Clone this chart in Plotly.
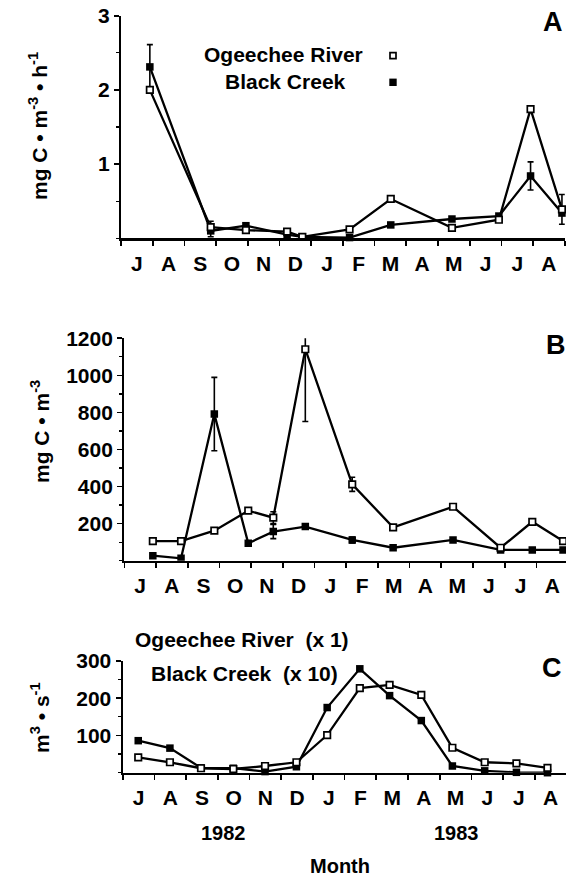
import numpy as np
import plotly.graph_objects as go

# ---------------- data ----------------
months = ["J", "A", "S", "O", "N", "D", "J", "F", "M", "A", "M", "J", "J", "A"]

# time axis: months elapsed since 1 July 1982
# Panel A: primary production (mg C m^-3 h^-1)
a_time = [0.91, 2.83, 3.94, 5.24, 5.72, 7.21, 8.51, 10.44, 11.92, 12.92, 13.91]
a_ogeechee = [2.00, 0.15, 0.11, 0.09, 0.02, 0.12, 0.53, 0.14, 0.25, 1.74, 0.39]
a_ogeechee_err = [None, None, None, None, None, None, None, None, None, None, 0.20]
a_black = [2.31, 0.10, 0.17, 0.05, 0.02, 0.01, 0.18, 0.26, 0.30, 0.84, 0.34]
a_black_err_plus = [0.30, 0.13, None, None, None, None, None, None, None, 0.19, None]
a_black_err_minus = [0.30, 0.08, None, None, None, None, None, None, None, 0.19, None]

# Panel B: biomass (mg C m^-3)
b_time = [0.90, 1.79, 2.84, 3.91, 4.70, 5.71, 7.19, 8.48, 10.37, 11.87, 12.87, 13.84]
b_ogeechee = [106, 106, 162, 270, 232, 1141, 412, 180, 291, 70, 210, 106]
b_ogeechee_err = [None, None, None, None, 32, 390, 38, None, None, None, None, None]
b_black = [27, 13, 791, 94, 157, 184, 112, 70, 112, 58, 58, 58]
b_black_err = [None, None, 198, None, 38, None, 16, None, None, None, None, None]

# Panel C: discharge (m^3 s^-1); Black Creek plotted x10
c_time = [0.49, 1.49, 2.47, 3.49, 4.49, 5.48, 6.45, 7.48, 8.42, 9.42, 10.40, 11.42, 12.42, 13.40]
c_ogeechee = [41, 28, 12, 10, 18, 28, 101, 227, 236, 209, 67, 28, 25, 13]
c_black = [86, 66, 13, 12, 3, 16, 175, 279, 207, 140, 18, 5, 1, 0]

year_labels = ["1982", "1983"]

# ---------------- layout helpers ----------------
W, H = 566, 876
FONT = "Liberation Sans, Arial, Helvetica, sans-serif"


def fx(p):
    return p / W


def fy(p):
    return 1 - p / H


def arr(v):
    return np.array(v, dtype=float)


LINE = dict(color="black", width=2.3)
OPEN = dict(symbol="square", size=6.5, color="white", line=dict(color="black", width=1.7))
FILLED = dict(symbol="square", size=7.5, color="black", line=dict(color="black", width=0))


def err(plus, minus=None):
    d = dict(type="data", array=arr(plus), color="black", thickness=1.6, width=3)
    if minus is not None:
        d["symmetric"] = False
        d["arrayminus"] = arr(minus)
    else:
        d["symmetric"] = True
    return d


fig = go.Figure()

# Panel A
fig.add_trace(go.Scatter(x=a_time, y=a_black, mode="lines+markers", line=LINE, marker=FILLED,
                         error_y=err(a_black_err_plus, a_black_err_minus), xaxis="x", yaxis="y",
                         cliponaxis=False, name="Black Creek"))
fig.add_trace(go.Scatter(x=a_time, y=a_ogeechee, mode="lines+markers", line=LINE, marker=OPEN,
                         error_y=err(a_ogeechee_err), xaxis="x", yaxis="y",
                         cliponaxis=False, name="Ogeechee River"))
# Panel B
fig.add_trace(go.Scatter(x=b_time, y=b_black, mode="lines+markers", line=LINE, marker=FILLED,
                         error_y=err(b_black_err), xaxis="x2", yaxis="y2", name="Black Creek"))
fig.add_trace(go.Scatter(x=b_time, y=b_ogeechee, mode="lines+markers", line=LINE, marker=OPEN,
                         error_y=err(b_ogeechee_err), xaxis="x2", yaxis="y2", name="Ogeechee River"))
# Panel C
fig.add_trace(go.Scatter(x=c_time, y=c_black, mode="lines+markers", line=LINE, marker=FILLED,
                         xaxis="x3", yaxis="y3", cliponaxis=False, name="Black Creek (x10)"))
fig.add_trace(go.Scatter(x=c_time, y=c_ogeechee, mode="lines+markers", line=LINE, marker=OPEN,
                         xaxis="x3", yaxis="y3", cliponaxis=False, name="Ogeechee River (x1)"))

TICKFONT = dict(size=21, family=FONT, weight="bold", color="black")


def xaxis(domain, rng, anchor):
    return dict(domain=domain, range=rng, anchor=anchor,
                tickmode="array", tickvals=[i + 0.5 for i in range(len(months))], ticktext=months,
                ticks="", ticklabelstandoff=5, showline=True, linewidth=2.2, linecolor="black",
                showgrid=False, zeroline=False, fixedrange=True, automargin=False,
                tickfont=TICKFONT,
                minor=dict(tickmode="linear", tick0=0, dtick=1, ticks="outside", ticklen=5,
                           tickwidth=1.6, tickcolor="black", showgrid=False))


def yaxis(domain, rng, anchor, tickvals, minor_dtick):
    return dict(domain=domain, range=rng, anchor=anchor,
                tickmode="array", tickvals=tickvals,
                ticks="outside", ticklen=5, tickwidth=1.6, tickcolor="black",
                showline=True, linewidth=2.2, linecolor="black",
                showgrid=False, zeroline=False, fixedrange=True, automargin=False,
                tickfont=TICKFONT,
                minor=dict(tickmode="linear", tick0=0, dtick=minor_dtick, ticks="outside",
                           ticklen=3, tickwidth=1.3, tickcolor="black", showgrid=False))


MW = 31.7  # pixels per month
fig.update_layout(
    width=W, height=H,
    margin=dict(l=0, r=0, t=0, b=0, autoexpand=False),
    paper_bgcolor="white", plot_bgcolor="white",
    showlegend=False,
    font=dict(family=FONT, size=20, color="black", weight="bold"),
    xaxis=xaxis([fx(121), fx(121 + 14 * MW)], [0, 14], "y"),
    yaxis=yaxis([fy(238.3), fy(15.7)], [0, 3], "x", [1, 2, 3], 0.5),
    xaxis2=xaxis([fx(124.3), 1.0], [0, (W - 124.3) / MW], "y2"),
    yaxis2=yaxis([fy(560.7), fy(338.3)], [0, 1200], "x2", [200, 400, 600, 800, 1000, 1200], 100),
    xaxis3=xaxis([fx(122.7), 1.0], [0, (W - 122.7) / MW], "y3"),
    yaxis3=yaxis([fy(772.7), fy(661)], [0, 300], "x3", [100, 200, 300], 50),
)

ann = []


def text(s, x, y, size=20, xanchor="center", angle=0):
    ann.append(dict(text=s, x=fx(x), y=fy(y), xref="paper", yref="paper", showarrow=False,
                    xanchor=xanchor, yanchor="middle", textangle=angle,
                    font=dict(size=size, family=FONT, color="black", weight="bold")))


# y-axis titles
text("mg C • m<sup>-3</sup> • h<sup>-1</sup>", 38, 126, size=21, angle=-90)
text("mg C • m<sup>-3</sup>", 40, 432, size=21, angle=-90)
text("m<sup>3</sup> • s<sup>-1</sup>", 40, 718, size=21, angle=-90)

# panel letters
text("A", 552.5, 21.7, size=27)
text("B", 555.5, 345, size=27)
text("C", 551.5, 667.5, size=27)

# legend in panel A
text("Ogeechee River", 283, 55, size=21)
text("Black Creek", 285, 82, size=21)

# series labels in panel C
text("Ogeechee River  (x 1)", 133, 639, size=21, xanchor="left")
text("Black Creek  (x 10)", 149, 673, size=21, xanchor="left")

# year and axis title
text(year_labels[0], 223, 833, size=20)
text(year_labels[1], 456.7, 833, size=20)
text("Month", 340, 865.5, size=20)

fig.update_layout(annotations=ann)

# legend keys (open and filled squares) for panel A
shapes = [
    dict(type="rect", xref="paper", yref="paper", x0=fx(390), x1=fx(396), y0=fy(58.7), y1=fy(52.7),
         line=dict(color="black", width=1.7), fillcolor="white"),
    dict(type="rect", xref="paper", yref="paper", x0=fx(389.3), x1=fx(396.7), y0=fy(86), y1=fy(78.6),
         line=dict(color="black", width=0), fillcolor="black"),
]
fig.update_layout(shapes=shapes)

fig.write_html(
    "out.html",
    config={"displayModeBar": False, "staticPlot": True},
    post_script="document.body.style.margin='0';document.body.style.overflow='hidden';",
)
